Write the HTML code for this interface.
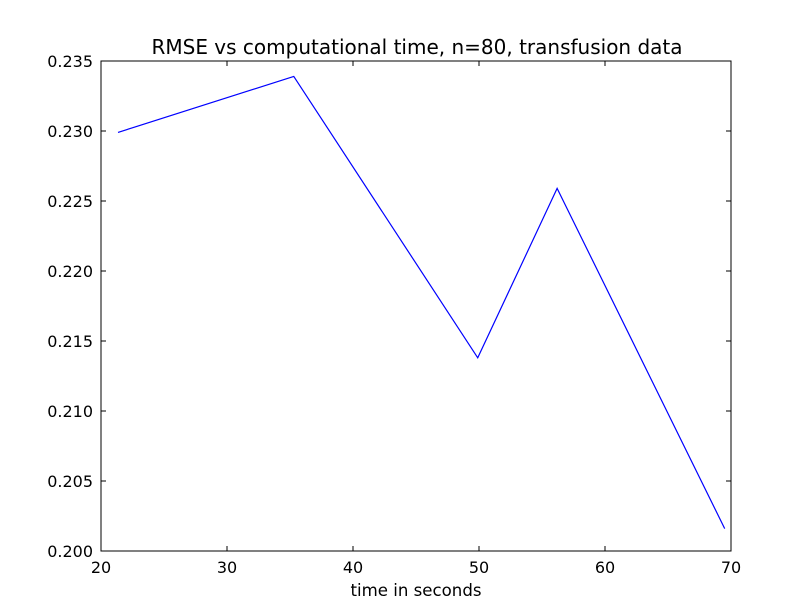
<!DOCTYPE html>
<html><head><meta charset="utf-8"><style>
body{margin:0;background:#fff;}
svg{display:block;font-family:"DejaVu Sans","Liberation Sans",sans-serif;}
</style></head><body>
<svg id="chart" width="812" height="612">
<rect width="812" height="612" fill="#fff"/>
<text x="417" y="54" font-size="20" text-anchor="middle">RMSE vs computational time, n=80, transfusion data</text>
<text x="416" y="596" font-size="16.6" text-anchor="middle">time in seconds</text>
<g id="ticks"></g>
<path id="line" fill="none" stroke="#0000ff" stroke-width="1.2"/>
<rect x="101" y="61" width="630" height="490" fill="none" stroke="#000" stroke-width="1"/>
</svg>
<script>
const xs=[21.35,35.3,49.9,56.2,69.5];
const ys=[0.2299,0.2339,0.2138,0.2259,0.2016];
const xTicks=[20,30,40,50,60,70];
const yTicks=[0.200,0.205,0.210,0.215,0.220,0.225,0.230,0.235];
const X0=101,X1=731,Y0=551,Y1=61;
const sx=v=>X0+(v-20)/(70-20)*(X1-X0);
const sy=v=>Y0-(v-0.2)/(0.235-0.2)*(Y0-Y1);
const NS="http://www.w3.org/2000/svg";
const g=document.getElementById('ticks');
function el(t,a){const e=document.createElementNS(NS,t);for(const k in a)e.setAttribute(k,a[k]);g.appendChild(e);return e;}
xTicks.forEach(v=>{const x=sx(v);
el('line',{x1:x,x2:x,y1:Y0,y2:Y0-5,stroke:'#000'});
el('line',{x1:x,x2:x,y1:Y1,y2:Y1+5,stroke:'#000'});
const t=el('text',{x:x,y:Y0+22,'font-size':16,'text-anchor':'middle'});t.textContent=v;

});
yTicks.forEach(v=>{const y=sy(v);
el('line',{x1:X0,x2:X0+5,y1:y,y2:y,stroke:'#000'});
el('line',{x1:X1,x2:X1-5,y1:y,y2:y,stroke:'#000'});
const t=el('text',{x:X0-8,y:y+6,'font-size':16,'text-anchor':'end'});t.textContent=v.toFixed(3);

});
document.getElementById('line').setAttribute('d',xs.map((v,i)=>(i?'L':'M')+sx(v)+','+sy(ys[i])).join(''));
</script>
</body></html>
